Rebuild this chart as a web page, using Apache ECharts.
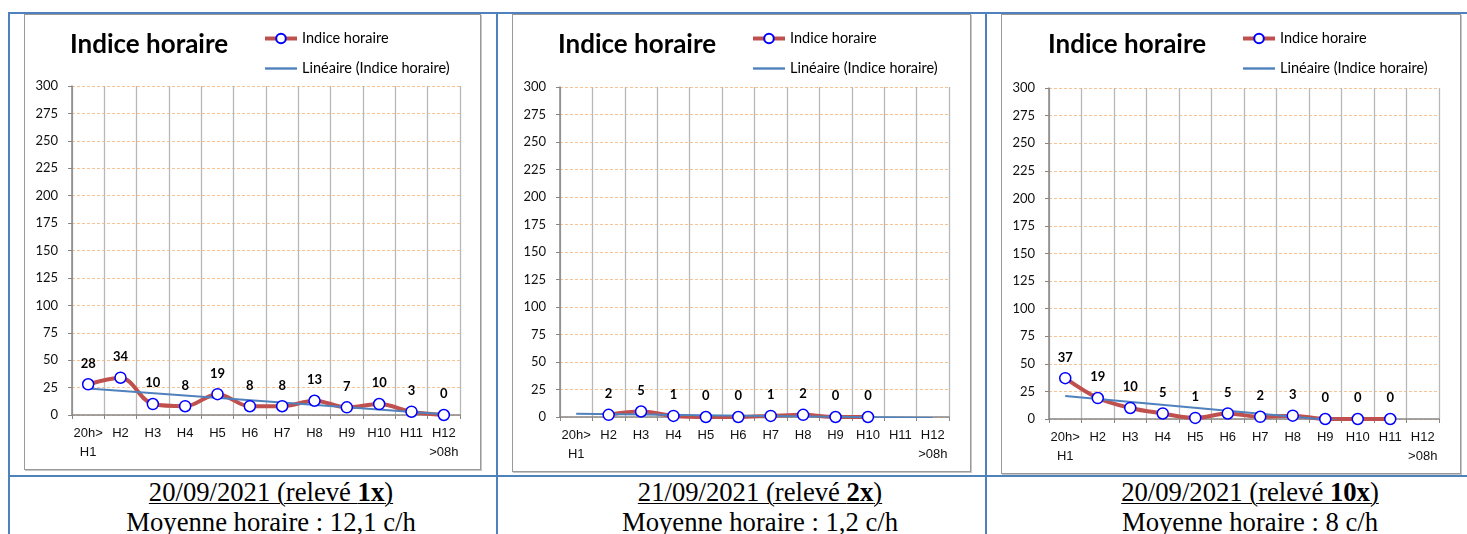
<!DOCTYPE html>
<html>
<head>
<meta charset="utf-8">
<script src="https://cdn.jsdelivr.net/npm/echarts@6/dist/echarts.min.js"></script>
<style>
  html, body { margin: 0; padding: 0; background: #fff; width: 1467px; height: 534px; overflow: hidden; }
  #page { position: relative; width: 1467px; height: 534px; }
  .rule { position: absolute; background: #4F81BD; }
  .panel { position: absolute; box-sizing: border-box; border: 1px solid #9a9a9a; box-shadow: 1px 1px 0 #c6c6c6; background: #fff; }
  .chart { position: absolute; left: 0; top: 0; }
  .cap { position: absolute; top: 477px; width: 420px; text-align: center; white-space: nowrap;
         font-family: "Liberation Serif", "Times New Roman", serif; font-size: 26.67px; line-height: 30px; color: #000; }
  .cap u { text-decoration: underline; text-decoration-thickness: 1px; text-underline-offset: 2px; }
</style>
</head>
<body>
<div id="page"></div>
<script>
// ---- data ----
const categories = ['20h>\nH1', 'H2', 'H3', 'H4', 'H5', 'H6', 'H7', 'H8', 'H9', 'H10', 'H11', 'H12\n>08h'];
const yMin = 0, yMax = 300, yStep = 25;

const seriesName = 'Indice horaire';
const trendName = 'Linéaire (Indice horaire)';

// hourly index per night (blank hours = null)
const night1 = [28, 34, 10, 8, 19, 8, 8, 13, 7, 10, 3, 0];
const night2 = [null, 2, 5, 1, 0, 0, 1, 2, 0, 0, null, null];
const night3 = [37, 19, 10, 5, 1, 5, 2, 3, 0, 0, 0, null];

// linear trend: value at first and at last category
const trend1 = [24.1, 0.7];
const trend2 = [2.9, -0.8];
const trend3 = [20.8, -8.6];

const dates = ['20/09/2021', '21/09/2021', '20/09/2021'];
const releves = ['1x', '2x', '10x'];
const means = ['12,1', '1,2', '8'];

// ---- layout ----
const page = document.getElementById('page');

function addRule(l, t, w, h) {
  const d = document.createElement('div');
  d.className = 'rule';
  d.style.cssText = `left:${l}px;top:${t}px;width:${w}px;height:${h}px`;
  page.appendChild(d);
}
addRule(8, 12, 1459, 2);
addRule(8, 12, 2, 522);
addRule(496, 12, 2, 522);
addRule(985, 12, 2, 522);
addRule(8, 475, 1459, 2);

const panels = [
  { left: 24,   top: 14, width: 457, height: 456, grid: { left: 47, top: 71, width: 388, height: 329 }, titleLeft: 45, legendLeft: 238 },
  { left: 512,  top: 14, width: 459, height: 458, grid: { left: 47, top: 72, width: 389, height: 330 }, titleLeft: 45, legendLeft: 238 },
  { left: 1001, top: 14, width: 460, height: 460, grid: { left: 47, top: 73, width: 390, height: 331 }, titleLeft: 46, legendLeft: 239 }
];
const nights = [night1, night2, night3];
const trends = [trend1, trend2, trend3];
const capCenters = [271, 760, 1250];

function trendData(t) {
  const arr = categories.map(() => null);
  arr[0] = t[0];
  arr[arr.length - 1] = t[1];
  return arr;
}

function buildOption(p, values, trend) {
  return {
    animation: false,
    title: {
      text: 'Indice horaire',
      left: p.titleLeft, top: 17, padding: 0,
      textStyle: { fontFamily: 'Lato', fontWeight: 'bold', fontSize: 26, lineHeight: 26, color: '#000' }
    },
    legend: {
      orient: 'vertical', left: p.legendLeft, top: 16, padding: 0,
      itemWidth: 32, itemHeight: 12, itemGap: 15,
      lineStyle: { width: 'inherit' },
      textStyle: { fontFamily: 'Lato', fontSize: 14.5, lineHeight: 14, color: '#000' },
      data: [
        seriesName,
        { name: trendName, icon: 'path://M0,0H32V2.4H0Z' }
      ]
    },
    grid: { left: p.grid.left, top: p.grid.top, width: p.grid.width, height: p.grid.height, containLabel: false },
    xAxis: {
      type: 'category', data: categories, boundaryGap: true,
      axisLine: { show: true, lineStyle: { color: '#868686', width: 1.5 } },
      axisTick: { show: true, length: 4, alignWithLabel: false, lineStyle: { color: '#868686', width: 1 } },
      axisLabel: { interval: 0, margin: 9, fontFamily: 'Liberation Sans', fontSize: 13, lineHeight: 19, color: '#111' },
      splitLine: { show: true, lineStyle: { color: '#B8B8B8', width: 1.3 } }
    },
    yAxis: {
      type: 'value', min: yMin, max: yMax, interval: yStep,
      axisLine: { show: true, lineStyle: { color: '#868686', width: 1.5 } },
      axisTick: { show: true, length: 4, lineStyle: { color: '#868686', width: 1 } },
      axisLabel: { margin: 14, fontFamily: 'Lato', fontSize: 13, color: '#111' },
      splitLine: { show: true, lineStyle: { color: '#F8C293', width: 1, type: [3, 2] } }
    },
    series: [
      {
        name: seriesName, type: 'line', data: values, smooth: 0.35,
        symbol: 'circle', symbolSize: 11, showAllSymbol: true,
        lineStyle: { color: '#C0504D', width: 4 },
        itemStyle: { color: '#FFFFFF', borderColor: '#0000FF', borderWidth: 1.5 },
        label: { show: true, position: 'top', distance: 8, fontFamily: 'Lato', fontWeight: 'bold', fontSize: 13, color: '#000' },
        emphasis: { disabled: true }
      },
      {
        name: trendName, type: 'line', data: trendData(trend), connectNulls: true,
        symbol: 'none', clip: true,
        lineStyle: { color: '#4F81BD', width: 2 },
        itemStyle: { color: '#4F81BD' },
        emphasis: { disabled: true }
      }
    ]
  };
}

panels.forEach((p, i) => {
  const box = document.createElement('div');
  box.className = 'panel';
  box.style.cssText = `left:${p.left}px;top:${p.top}px;width:${p.width}px;height:${p.height}px`;
  const c = document.createElement('div');
  c.className = 'chart';
  c.style.width = (p.width - 2) + 'px';
  c.style.height = (p.height - 2) + 'px';
  box.appendChild(c);
  page.appendChild(box);
  const chart = echarts.init(c, null, { renderer: 'canvas' });
  chart.setOption(buildOption(p, nights[i], trends[i]));

  const cap = document.createElement('div');
  cap.className = 'cap';
  cap.style.left = (capCenters[i] - 210) + 'px';
  cap.innerHTML = `<u>${dates[i]} (relevé <b>${releves[i]}</b>)</u><br>Moyenne horaire : ${means[i]} c/h`;
  page.appendChild(cap);
});
</script>
</body>
</html>
